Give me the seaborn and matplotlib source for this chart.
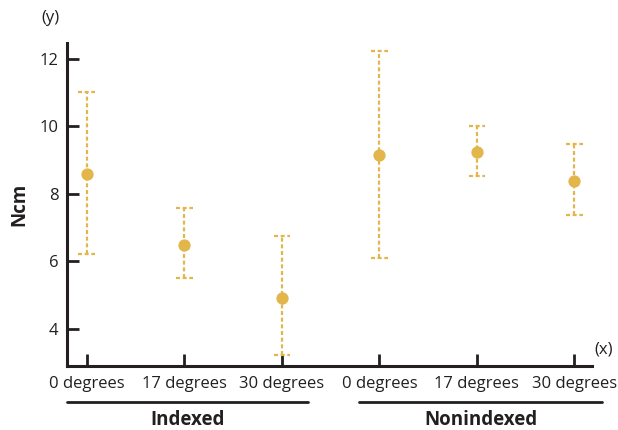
import matplotlib
matplotlib.use("Agg")
import matplotlib.pyplot as plt
import seaborn as sns
import pandas as pd

groups = ["Indexed", "Indexed", "Indexed", "Nonindexed", "Nonindexed", "Nonindexed"]
angles = ["0 degrees", "17 degrees", "30 degrees", "0 degrees", "17 degrees", "30 degrees"]
means = [8.59, 6.49, 4.92, 9.16, 9.24, 8.39]
lower = [6.22, 5.51, 3.23, 6.11, 8.53, 7.38]
upper = [11.02, 7.59, 6.76, 12.24, 10.02, 9.48]

sns.set_theme(style="ticks")
plt.rcParams["font.family"] = ["Open Sans", "DejaVu Sans"]

rows = []
for g, a, m, lo, hi in zip(groups, angles, means, lower, upper):
    key = f"{g}|{a}"
    for v in (lo, m, hi):
        rows.append({"key": key, "value": v})
df = pd.DataFrame(rows)
order = [f"{g}|{a}" for g, a in zip(groups, angles)]

gold = "#e3b64c"
dark = "#231f20"

fig = plt.figure(figsize=(6.18, 4.30), dpi=100)
ax = fig.add_axes([0.108, 0.149, 0.850, 0.751])

sns.pointplot(data=df, x="key", y="value", order=order, estimator="median",
              errorbar=("pi", 100), color=gold, linestyle="none",
              markers="o", markersize=6.8, capsize=0.17,
              err_kws={"linestyle": (0, (1.8, 1.2)), "linewidth": 1.6},
              ax=ax)

ax.set_xlim(-0.205, 5.18)
ax.set_ylim(2.9, 12.47)
ax.set_yticks([4, 6, 8, 10, 12])
ax.set_xticks(range(6))
ax.set_xticklabels(angles, fontsize=12, color=dark)
ax.tick_params(axis="y", labelsize=12, labelcolor=dark)
ax.tick_params(direction="in", length=8.5, width=2, color=dark, pad=6)
ax.tick_params(axis="x", pad=7)
for s in ["top", "right"]:
    ax.spines[s].set_visible(False)
for s in ["left", "bottom"]:
    ax.spines[s].set_linewidth(2.2)
    ax.spines[s].set_color(dark)
ax.set_xlabel("")
ax.set_ylabel("Ncm", fontsize=13.5, fontweight="bold", color=dark, labelpad=7)

fig.text(50 / 618, 1 - 18 / 430, "(y)", ha="center", va="center", fontsize=12, color=dark)
fig.text(604 / 618, 1 - 349 / 430, "(x)", ha="center", va="center", fontsize=12, color=dark)

# group brackets
for x0, x1, label in [(67, 308, "Indexed"), (359, 602, "Nonindexed")]:
    fig.add_artist(plt.Line2D([x0 / 618, x1 / 618], [1 - 402 / 430] * 2,
                              color=dark, lw=2, transform=fig.transFigure))
    fig.text((x0 + x1) / 2 / 618, 1 - 420 / 430, label, ha="center", va="center",
             fontsize=13.5, fontweight="bold", color=dark)

fig.savefig("out.png", dpi=100)
